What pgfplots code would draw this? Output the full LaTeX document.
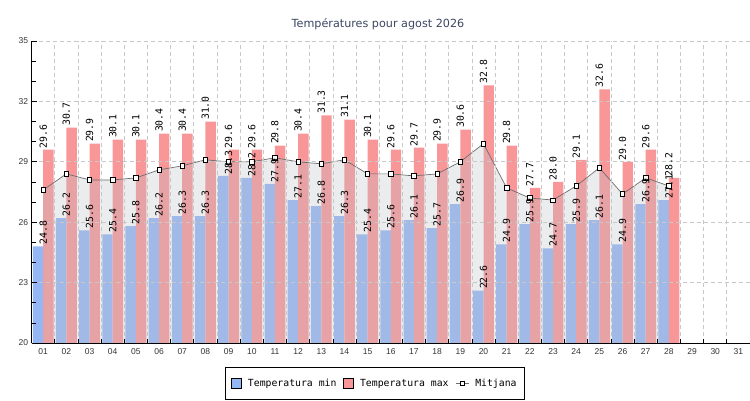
\documentclass[border=0pt]{standalone}
\usepackage{fontspec}
\setmainfont{DejaVu Sans}
\setmonofont{DejaVu Sans Mono}
\newfontfamily\tickfont{Liberation Sans}
\usepackage{pgfplots}
\usepackage{pgfplotstable}
\pgfplotsset{compat=1.18}
\usetikzlibrary{calc}

\definecolor{mincol}{RGB}{148,182,245}
\definecolor{maxcol}{RGB}{248,150,152}
\definecolor{areacol}{RGB}{190,192,198}
\definecolor{gridcol}{RGB}{200,200,200}
\definecolor{linecol}{RGB}{110,110,110}
\definecolor{titlecol}{RGB}{59,70,98}

\pgfplotstableread{
day min max mean
1 24.8 29.6 27.6
2 26.2 30.7 28.4
3 25.6 29.9 28.1
4 25.4 30.1 28.1
5 25.8 30.1 28.2
6 26.2 30.4 28.6
7 26.3 30.4 28.8
8 26.3 31.0 29.1
9 28.3 29.6 29.0
10 28.2 29.6 29.0
11 27.9 29.8 29.2
12 27.1 30.4 29.0
13 26.8 31.3 28.9
14 26.3 31.1 29.1
15 25.4 30.1 28.4
16 25.6 29.6 28.4
17 26.1 29.7 28.3
18 25.7 29.9 28.4
19 26.9 30.6 29.0
20 22.6 32.8 29.9
21 24.9 29.8 27.7
22 25.9 27.7 27.2
23 24.7 28.0 27.1
24 25.9 29.1 27.8
25 26.1 32.6 28.7
26 24.9 29.0 27.4
27 26.9 29.6 28.2
28 27.1 28.2 27.8
}\data

\pgfplotsset{
  barlabels/.style={
    nodes near coords, point meta=y,
    nodes near coords align=horizontal,
    nodes near coords style={/pgf/number format/fixed, /pgf/number format/fixed zerofill, /pgf/number format/precision=1, /pgf/number format/assume math mode=true},
    every node near coord/.append style={rotate=90, anchor=west, inner sep=1.5pt,
      font=\ttfamily\fontsize{9.8}{10}\selectfont, color=black}
  },
  minlegend/.style={legend image code/.code={\draw[fill=mincol, draw=black, line width=0.6pt] (0pt,-5pt) rectangle (10pt,5pt);}},
  maxlegend/.style={legend image code/.code={\draw[fill=maxcol, draw=black, line width=0.6pt] (0pt,-5pt) rectangle (10pt,5pt);}},
  meanlegend/.style={legend image code/.code={\draw[mark repeat=2,mark phase=2,##1] plot coordinates {(0pt,0pt) (6.5pt,0pt) (13pt,0pt)};}},
}

\begin{document}
\begin{tikzpicture}
\begin{axis}[
  name=ax,
  scale only axis,
  width=718.4pt, height=302pt,
  xmin=0.5, xmax=31.5, ymin=20, ymax=35,
  axis lines=left,
  axis line style={-, black, line width=0.8pt},
  axis on top,
  /pgf/number format/assume math mode=true,
  xtick={1,...,31},
  xticklabels={01,02,03,04,05,06,07,08,09,10,11,12,13,14,15,16,17,18,19,20,21,22,23,24,25,26,27,28,29,30,31},
  major x tick style={draw=none},
  minor xtick={0.5,1.5,...,31.5},
  ytick={20,23,26,29,32,35},
  minor y tick num=2,
  tick align=inside,
  major tick length=5pt,
  minor tick length=4pt,
  tick style={black, line width=0.7pt},
  xminorgrids=true,
  ymajorgrids=true,
  major grid style={gridcol, line width=0.7pt, dash pattern=on 4pt off 3pt},
  minor grid style={gridcol, line width=0.7pt, dash pattern=on 4pt off 3pt},
  tick label style={font=\tickfont\fontsize{8.5}{10}\selectfont, color=black!80},
  xticklabel style={yshift=-2pt},
  legend style={at={(axis description cs:0.478,-0.0795)}, anchor=north,
    legend columns=-1, draw=black, line width=0.8pt,
    font=\ttfamily\fontsize{9.8}{11}\selectfont,
    inner ysep=9.5pt, inner xsep=6pt,
    /tikz/every even column/.append style={column sep=5pt},
    /tikz/every odd column/.append style={column sep=4pt}},
]
\addplot[ybar, bar width=0.45, bar shift=-0.225, fill=mincol, draw=none, minlegend]
  table[x=day,y=min]{\data};
\addlegendentry{Temperatura min}
\addplot[ybar, bar width=0.45, bar shift=0.225, fill=maxcol, draw=none, maxlegend]
  table[x=day,y=max]{\data};
\addlegendentry{Temperatura max}
\addplot[draw=none, fill=areacol, fill opacity=0.3, forget plot]
  table[x=day,y=mean]{\data} \closedcycle;
\addplot[color=linecol, line width=0.7pt, mark=square*, mark size=2.2pt,
  mark options={fill=white, draw=black, line width=0.7pt, solid}, meanlegend]
  table[x=day,y=mean]{\data};
\addlegendentry{Mitjana}
\addplot[ybar, bar width=0.45, bar shift=-0.225, draw=none, fill=none, forget plot, barlabels]
  table[x=day,y=min]{\data};
\addplot[ybar, bar width=0.45, bar shift=0.225, draw=none, fill=none, forget plot, barlabels]
  table[x=day,y=max]{\data};
\end{axis}
\coordinate (O) at ($(ax.south west)+(-31.6pt,-57pt)$);
\node[font=\fontsize{11.2}{13}\selectfont, text=titlecol] at ($(O)+(378pt,376pt)$) {Températures pour agost 2026};
\pgfresetboundingbox
\path[use as bounding box] (O) rectangle ++(750pt,400pt);
\end{tikzpicture}
\end{document}
